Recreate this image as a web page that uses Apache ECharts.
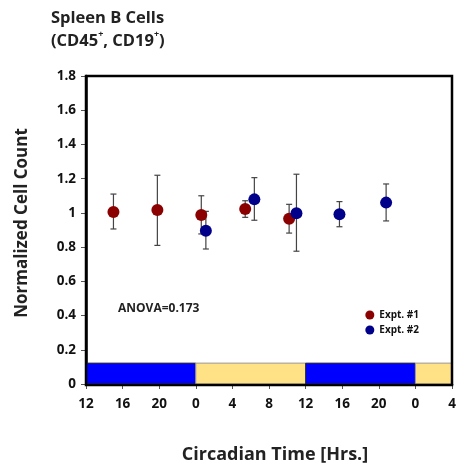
<!DOCTYPE html>
<html>
<head>
<meta charset="utf-8">
<script src="https://cdn.jsdelivr.net/npm/echarts@6/dist/echarts.min.js"></script>
<style>
  html, body { margin: 0; padding: 0; background: #fff; }
  #chart { width: 460px; height: 469px; }
</style>
</head>
<body>
<div id="chart"></div>
<script>
// circadian hours (continuous, 12..52), values & error bar ends
const expt1X = [15, 19.8, 24.6, 29.4, 34.2]
const expt1Y = [1.005, 1.017, 0.988, 1.023, 0.966]
const expt1Hi = [1.11, 1.22, 1.10, 1.071, 1.05]
const expt1Lo = [0.906, 0.81, 0.877, 0.974, 0.882]

const expt2X = [25.1, 30.4, 35.0, 39.7, 44.8]
const expt2Y = [0.896, 1.079, 0.998, 0.992, 1.06]
const expt2Hi = [1.009, 1.206, 1.226, 1.066, 1.169]
const expt2Lo = [0.789, 0.957, 0.776, 0.919, 0.953]

// light/dark bar: [start, end, 0 = dark, 1 = light]
const phases = [[12, 24, 0], [24, 36, 1], [36, 48, 0], [48, 52, 1]]
const phaseTop = 0.122

const red = '#8b0000'
const blue = '#00008b'
const font = '"Open Sans", Lato, sans-serif'

const chart = echarts.init(document.getElementById('chart'))

function errData(xs, lo, hi) {
  return xs.map((x, i) => [x, lo[i], hi[i]])
}

function errRender(params, api) {
  const x = api.value(0)
  const lo = api.coord([x, api.value(1)])
  const hi = api.coord([x, api.value(2)])
  const w = 3
  const style = { stroke: '#444', lineWidth: 1.2 }
  return {
    type: 'group',
    children: [
      { type: 'line', shape: { x1: lo[0], y1: lo[1], x2: hi[0], y2: hi[1] }, style },
      { type: 'line', shape: { x1: lo[0] - w, y1: lo[1], x2: lo[0] + w, y2: lo[1] }, style },
      { type: 'line', shape: { x1: hi[0] - w, y1: hi[1], x2: hi[0] + w, y2: hi[1] }, style }
    ]
  }
}

const option = {
  animation: false,
  backgroundColor: '#fff',
  title: {
    text: 'Spleen B Cells\n({t|CD45}{s|+}{t|, CD19}{s|+}{t|)}',
    left: 46,
    top: 2,
    textStyle: {
      fontFamily: font,
      fontWeight: 'bold',
      fontSize: 16.5,
      color: '#222',
      lineHeight: 23,
      rich: {
        t: { fontFamily: font, fontWeight: 'bold', fontSize: 16.5, color: '#222' },
        s: { fontFamily: font, fontWeight: 'bold', fontSize: 9, color: '#222', verticalAlign: 'top', padding: [0, 0, 8, 0] }
      }
    }
  },
  grid: { left: 86, right: 8, top: 76, bottom: 84 },
  xAxis: {
    type: 'value',
    min: 12,
    max: 52,
    interval: 4,
    name: 'Circadian Time [Hrs.]',
    nameLocation: 'middle',
    nameGap: 62,
    nameTextStyle: { fontFamily: font, fontWeight: 'bold', fontSize: 18, color: '#222', padding: [0, 0, 0, 12] },
    axisLine: { show: true, onZero: false, lineStyle: { color: '#000', width: 2.5 } },
    axisTick: { show: true, length: 5, lineStyle: { color: '#555', width: 1 } },
    axisLabel: {
      margin: 13,
      fontFamily: font, fontWeight: 'bold', fontSize: 13.5, color: '#111',
      formatter: v => String(v % 24)
    },
    splitLine: { show: false }
  },
  yAxis: {
    type: 'value',
    min: 0,
    max: 1.8,
    interval: 0.2,
    name: 'Normalized Cell Count',
    nameLocation: 'middle',
    nameGap: 55,
    nameTextStyle: { fontFamily: font, fontWeight: 'bold', fontSize: 17, color: '#222', padding: [0, 0, 0, 14] },
    axisLine: { show: true, lineStyle: { color: '#000', width: 2.5 } },
    axisTick: { show: true, length: 5, lineStyle: { color: '#555', width: 1 } },
    axisLabel: {
      margin: 10,
      fontFamily: font, fontWeight: 'bold', fontSize: 13.5, color: '#111',
      formatter: v => String(Math.round(v * 10) / 10)
    },
    splitLine: { show: false }
  },
  graphic: [
    {
      type: 'rect',
      shape: { x: 86, y: 76, width: 366, height: 309 },
      style: { fill: 'none', stroke: '#000', lineWidth: 2.5 },
      z: 100
    },
    {
      type: 'text',
      left: 118,
      top: 303,
      style: { text: 'ANOVA=0.173', fontFamily: font, fontWeight: 'bold', fontSize: 12, fill: '#222' }
    }
  ],
  legend: {
    right: 36,
    top: 305,
    orient: 'vertical',
    itemWidth: 9,
    itemHeight: 9,
    itemGap: 5,
    icon: 'circle',
    data: ['Expt. #1', 'Expt. #2'],
    textStyle: { fontFamily: font, fontWeight: 'bold', fontSize: 10, color: '#111' }
  },
  series: [
    {
      name: 'phase',
      type: 'custom',
      data: phases,
      renderItem: (params, api) => {
        const p0 = api.coord([api.value(0), phaseTop])
        const p1 = api.coord([api.value(1), 0])
        const light = api.value(2) === 1
        return {
          type: 'rect',
          shape: { x: p0[0], y: p0[1], width: p1[0] - p0[0], height: p1[1] - p0[1] },
          style: { fill: light ? '#ffe186' : '#0000ff', stroke: light ? '#999' : '#333', lineWidth: 1 }
        }
      },
      silent: true,
      z: 1
    },
    {
      name: 'err1',
      type: 'custom',
      data: errData(expt1X, expt1Lo, expt1Hi),
      renderItem: errRender,
      z: 2
    },
    {
      name: 'err2',
      type: 'custom',
      data: errData(expt2X, expt2Lo, expt2Hi),
      renderItem: errRender,
      z: 2
    },
    {
      name: 'Expt. #1',
      type: 'scatter',
      symbolSize: 12,
      itemStyle: { color: red, opacity: 1 },
      data: expt1X.map((x, i) => [x, expt1Y[i]]),
      z: 3
    },
    {
      name: 'Expt. #2',
      type: 'scatter',
      symbolSize: 12,
      itemStyle: { color: blue, opacity: 1 },
      data: expt2X.map((x, i) => [x, expt2Y[i]]),
      z: 4
    }
  ]
}

chart.setOption(option)
</script>
</body>
</html>
